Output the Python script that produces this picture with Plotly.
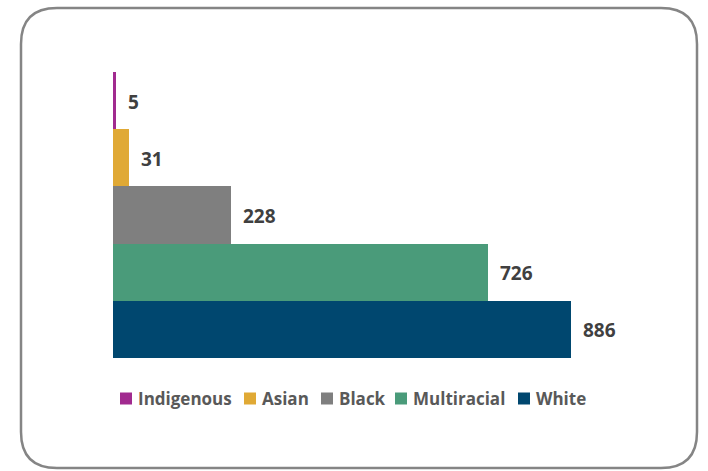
import plotly.graph_objects as go

# Counts by group
categories = ["Indigenous", "Asian", "Black", "Multiracial", "White"]
values = [5, 31, 228, 726, 886]
colors = ["#A12A8F", "#E0A935", "#7F7F7F", "#4A9B7A", "#00476F"]

W, H = 708, 471
L, R, T, B = 113, 78, 72, 113
plot_w = W - L - R
plot_h = H - T - B


def px(x):
    """pixel column -> paper x"""
    return (x - L) / plot_w


def py(y):
    """pixel row -> paper y"""
    return (H - B - y) / plot_h


fig = go.Figure()
for cat, val, col in zip(categories, values, colors):
    fig.add_trace(go.Bar(
        x=[val], y=[cat], orientation="h", name=cat,
        marker=dict(color=col, line=dict(width=0)),
        hoverinfo="x+y",
    ))

# value labels just past the bar ends
for cat, val in zip(categories, values):
    fig.add_annotation(
        x=val, y=cat, text=f"<b>{val}</b>", showarrow=False,
        xanchor="left", xshift=10, yshift=-1,
        font=dict(family="Open Sans", size=19, color="#404040"),
    )

# legend row: square swatch followed by the group name
legend_x = [120, 244, 321, 395, 518]
legend_y = 398.5
sw = 12
for cat, col, lx in zip(categories, colors, legend_x):
    fig.add_shape(type="rect", xref="paper", yref="paper",
                  x0=px(lx), x1=px(lx + sw),
                  y0=py(legend_y + sw / 2), y1=py(legend_y - sw / 2),
                  fillcolor=col, line=dict(width=0))
    fig.add_annotation(
        x=px(lx + sw + 4), y=py(legend_y), xref="paper", yref="paper",
        text=f"<b>{cat}</b>", showarrow=False, xanchor="left", yanchor="middle",
        font=dict(family="Open Sans", size=17, color="#595959"),
    )

# rounded frame around the whole chart
x0, x1, y0, y1, r = 21, 697, 8, 468, 36
path = (
    f"M {px(x0 + r)},{py(y0)} L {px(x1 - r)},{py(y0)} "
    f"Q {px(x1)},{py(y0)} {px(x1)},{py(y0 + r)} "
    f"L {px(x1)},{py(y1 - r)} Q {px(x1)},{py(y1)} {px(x1 - r)},{py(y1)} "
    f"L {px(x0 + r)},{py(y1)} Q {px(x0)},{py(y1)} {px(x0)},{py(y1 - r)} "
    f"L {px(x0)},{py(y0 + r)} Q {px(x0)},{py(y0)} {px(x0 + r)},{py(y0)} Z"
)
fig.add_shape(type="path", path=path, xref="paper", yref="paper",
              line=dict(color="#858585", width=2.5), layer="below")

fig.update_layout(
    width=W, height=H,
    margin=dict(l=L, r=R, t=T, b=B),
    paper_bgcolor="white", plot_bgcolor="white",
    barmode="overlay", bargap=0,
    showlegend=False,
    xaxis=dict(range=[0, 1000], visible=False, fixedrange=True),
    yaxis=dict(type="category", categoryorder="array", categoryarray=categories,
               range=[4.5, -0.5], visible=False, fixedrange=True),
)

fig.write_html("out.html")
